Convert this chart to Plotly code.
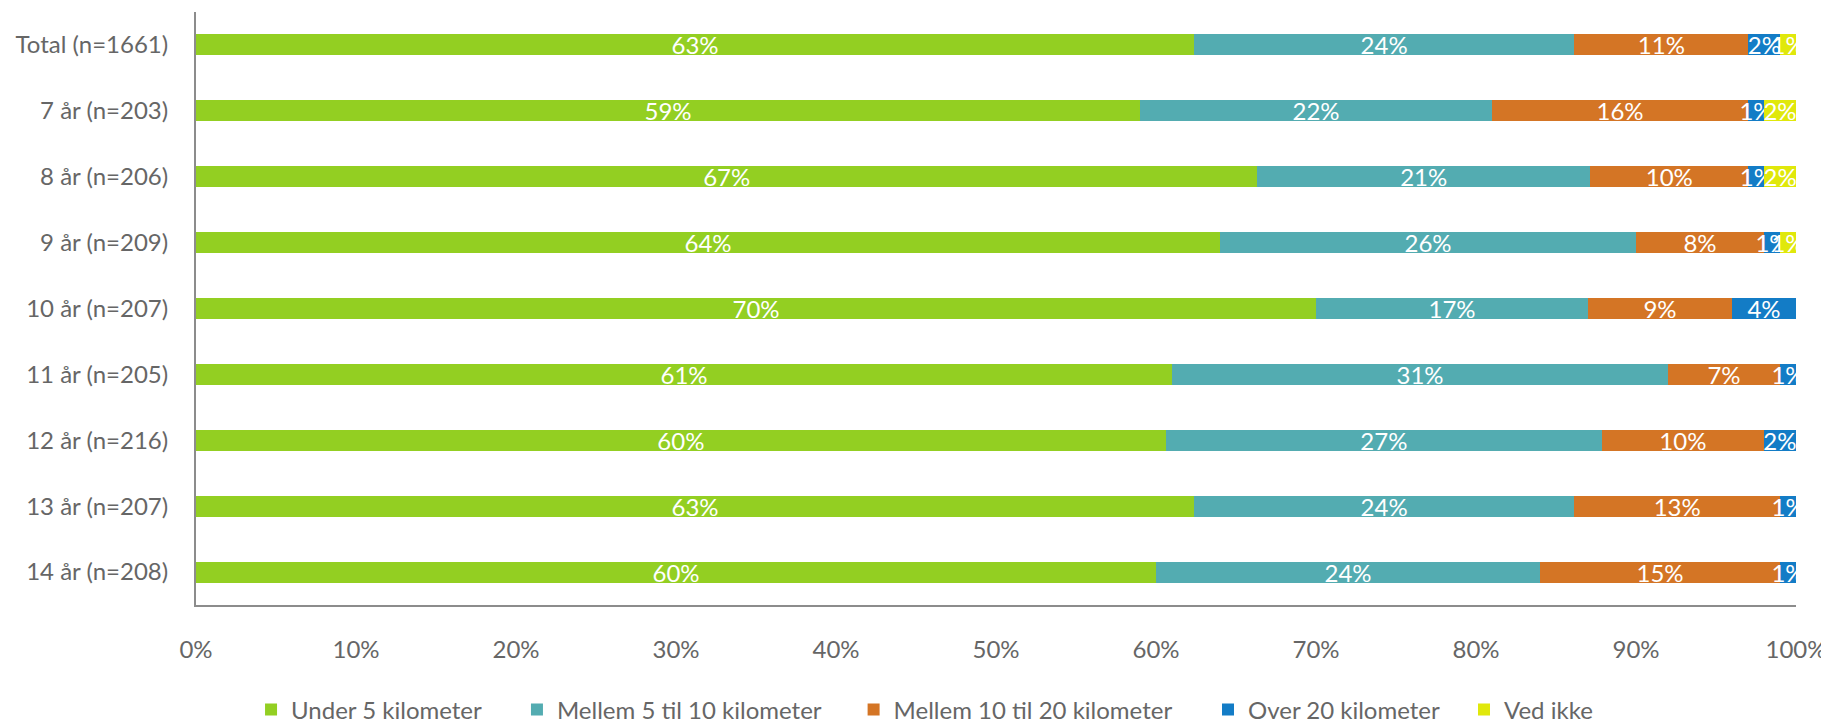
import plotly.graph_objects as go

# categories (top to bottom)
groups = ["Total (n=1661)", "7 år (n=203)", "8 år (n=206)", "9 år (n=209)", "10 år (n=207)",
          "11 år (n=205)", "12 år (n=216)", "13 år (n=207)", "14 år (n=208)"]

# shown percentages per answer (Excel-style 100% stacked, normalised per row)
under_5 = [63, 59, 67, 64, 70, 61, 60, 63, 60]
mellem_5_10 = [24, 22, 21, 26, 17, 31, 27, 24, 24]
mellem_10_20 = [11, 16, 10, 8, 9, 7, 10, 13, 15]
over_20 = [2, 1, 1, 1, 4, 1, 2, 1, 1]
ved_ikke = [1, 2, 2, 1, 0, 0, 0, 0, 0]

series = [
    ("Under 5 kilometer", under_5, "#93CF22"),
    ("Mellem 5 til 10 kilometer", mellem_5_10, "#53ACB1"),
    ("Mellem 10 til 20 kilometer", mellem_10_20, "#D47525"),
    ("Over 20 kilometer", over_20, "#137CC6"),
    ("Ved ikke", ved_ikke, "#E0E80B"),
]

FONT = "Lato, Carlito, Calibri, sans-serif"
GREY = "#666666"

# each legend entry gets its own legend box so the spacing follows the original
legend_x = [0.0344, 0.2006, 0.411, 0.6325, 0.7925]
legend_names = ["legend", "legend2", "legend3", "legend4", "legend5"]

fig = go.Figure()
for (name, vals, col), lg in zip(series, legend_names):
    labels = [f"{v}%" if v > 0 else "" for v in vals]
    fig.add_trace(go.Bar(
        y=groups, x=vals, name=name, orientation="h", legend=lg,
        marker_color=col, marker_line_width=0,
        text=labels, textposition="inside", insidetextanchor="middle", textangle=0,
        textfont=dict(color="white", size=24, family=FONT),
        cliponaxis=False,
    ))

legends = {}
for lg, lx in zip(legend_names, legend_x):
    legends[lg] = dict(orientation="h", x=lx, xanchor="left", y=-0.177, yanchor="middle",
                       font=dict(size=24, color=GREY), bgcolor="rgba(0,0,0,0)")

fig.update_layout(
    barmode="stack", barnorm="percent", bargap=0.68,
    width=1829, height=730,
    margin=dict(l=188, r=41, t=4, b=133),
    plot_bgcolor="white", paper_bgcolor="white",
    font=dict(family=FONT, size=24, color=GREY),
    uniformtext=dict(minsize=24, mode="show"),
    showlegend=True,
    **legends,
)
fig.update_xaxes(range=[0, 100], tickvals=list(range(0, 101, 10)),
                 ticktext=[f"{v}%" for v in range(0, 101, 10)],
                 showgrid=False, zeroline=False, showline=True, automargin=False,
                 linecolor="#8c8c8c", linewidth=2, ticks="", ticklabelstandoff=22)
fig.update_yaxes(autorange="reversed", showgrid=False, showline=True, automargin=False,
                 linecolor="#8c8c8c", linewidth=2, ticks="", ticklabelstandoff=21)

fig.write_html("out.html")
